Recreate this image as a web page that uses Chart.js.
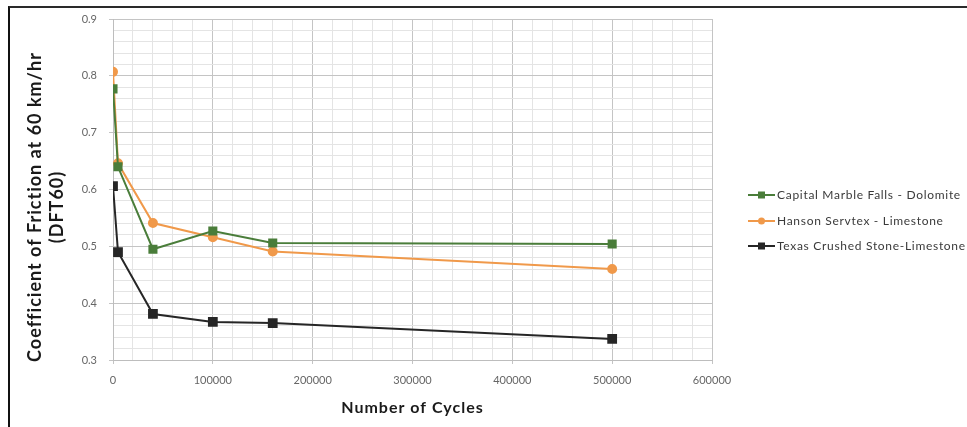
<!DOCTYPE html>
<html>
<head>
<meta charset="utf-8">
<script src="https://cdn.jsdelivr.net/npm/chart.js@4/dist/chart.umd.min.js"></script>
<style>
  html, body { margin: 0; padding: 0; background: #ffffff; }
  #wrap { position: relative; width: 967px; height: 427px; }
  #frame { position: absolute; left: 8px; top: 6px; right: 0; bottom: 0;
           border-top: 2px solid #2a2a2a; border-left: 2px solid #111; }
  canvas { position: absolute; left: 0; top: 0; }
</style>
</head>
<body>
<div id="wrap">
  <div id="frame"></div>
  <canvas id="chart" width="967" height="427"></canvas>
</div>
<script>
// Number of cycles (x)
const cycles = [0, 5000, 40000, 100000, 160000, 500000];

// Coefficient of friction, one array per aggregate
const capitalMarble = [0.777, 0.640, 0.495, 0.527, 0.506, 0.504];
const hansonServtex = [0.807, 0.646, 0.541, 0.516, 0.491, 0.460];
const texasCrushed  = [0.606, 0.490, 0.381, 0.367, 0.365, 0.337];

const seriesNames = ["Capital Marble Falls - Dolomite", "Hanson Servtex - Limestone", "Texas Crushed Stone-Limestone"];
const seriesColors = ["#4a7d3a", "#f0994a", "#262626"];

const yTitle = ["Coefficient of Friction at 60 km/hr", "(DFT60)"];
const xTitle = "Number of Cycles";

const toPoints = vals => vals.map((v, i) => ({ x: cycles[i], y: v }));

const isMajorX = v => v % 100000 === 0;
const isMajorY = v => Math.abs(v * 10 - Math.round(v * 10)) < 1e-6;

// axis titles + legend drawn by hand
const extras = {
  id: "extras",
  afterDraw(chart) {
    const ctx = chart.ctx;
    ctx.save();
    ctx.fillStyle = "#1a1a1a";
    ctx.font = "bold 18px Lato";
    ctx.letterSpacing = "1px";
    ctx.textAlign = "center";
    ctx.textBaseline = "middle";
    [[35, yTitle[0]], [57, yTitle[1]]].forEach(([x, txt]) => {
      ctx.save();
      ctx.translate(x, 207);
      ctx.rotate(-Math.PI / 2);
      ctx.fillText(txt, 0, 0);
      ctx.restore();
    });

    // x title
    ctx.font = "bold 16px Lato";
    ctx.letterSpacing = "1px";
    const a = chart.chartArea;
    ctx.fillText(xTitle, (a.left + a.right) / 2, 408);

    // legend
    const rows = [195, 221, 246];
    ctx.font = "12px Lato";
    ctx.letterSpacing = "0.7px";
    ctx.textAlign = "left";
    chart.data.datasets.forEach((ds, i) => {
      const y = rows[i];
      ctx.strokeStyle = ds.borderColor;
      ctx.lineWidth = 2;
      ctx.beginPath();
      ctx.moveTo(748, y);
      ctx.lineTo(775, y);
      ctx.stroke();
      ctx.fillStyle = ds.borderColor;
      if (ds.pointStyle === "circle") {
        ctx.beginPath();
        ctx.arc(761.5, y, 3.5, 0, Math.PI * 2);
        ctx.fill();
      } else {
        ctx.fillRect(758, y - 3.5, 7, 7);
      }
      ctx.fillStyle = "#3a3a3a";
      ctx.fillText(ds.label, 777, y + 0.5);
    });
    ctx.restore();
  }
};

const ctx = document.getElementById("chart").getContext("2d");

new Chart(ctx,
{
  type: "line",
  data:
  {
    datasets: [
    {
      label: seriesNames[0],
      data: toPoints(capitalMarble),
      borderColor: seriesColors[0],
      backgroundColor: seriesColors[0],
      pointStyle: "rect",
      pointRadius: 5,
      borderWidth: 2
    },
    {
      label: seriesNames[1],
      data: toPoints(hansonServtex),
      borderColor: seriesColors[1],
      backgroundColor: seriesColors[1],
      pointStyle: "circle",
      pointRadius: 4,
      borderWidth: 2
    },
    {
      label: seriesNames[2],
      data: toPoints(texasCrushed),
      borderColor: seriesColors[2],
      backgroundColor: seriesColors[2],
      pointStyle: "rect",
      pointRadius: 5.5,
      borderWidth: 2
    }]
  },
  options:
  {
    responsive: false,
    animation: false,
    devicePixelRatio: 1,
    layout: { padding: { left: 0, top: 19, right: 255, bottom: 0 } },
    plugins:
    {
      legend: { display: false },
      tooltip: { enabled: false }
    },
    scales:
    {
      x:
      {
        type: "linear",
        min: 0,
        max: 600000,
        afterFit: s => { s.height = 67; },
        border: { color: "#bdbdbd" },
        grid:
        {
          color: c => isMajorX(c.tick.value) ? "#c4c4c4" : "#e4e4e4",
          tickColor: c => isMajorX(c.tick.value) ? "#c4c4c4" : "rgba(0,0,0,0)",
          tickLength: 4
        },
        ticks:
        {
          stepSize: 20000,
          autoSkip: false,
          maxRotation: 0,
          padding: 10,
          color: "#666666",
          font: { family: "Lato", size: 11 },
          callback: v => isMajorX(v) ? String(v) : ""
        }
      },
      y:
      {
        min: 0.3,
        max: 0.9,
        afterFit: s => { s.width = 113; },
        border: { color: "#bdbdbd" },
        grid:
        {
          color: c => isMajorY(c.tick.value) ? "#c4c4c4" : "#e4e4e4",
          tickColor: c => isMajorY(c.tick.value) ? "#c4c4c4" : "rgba(0,0,0,0)",
          tickLength: 4
        },
        ticks:
        {
          stepSize: 0.02,
          autoSkip: false,
          padding: 12,
          color: "#666666",
          font: { family: "Lato", size: 11 },
          callback: v => isMajorY(v) ? v.toFixed(1) : ""
        }
      }
    }
  },
  plugins: [extras]
});
</script>
</body>
</html>
